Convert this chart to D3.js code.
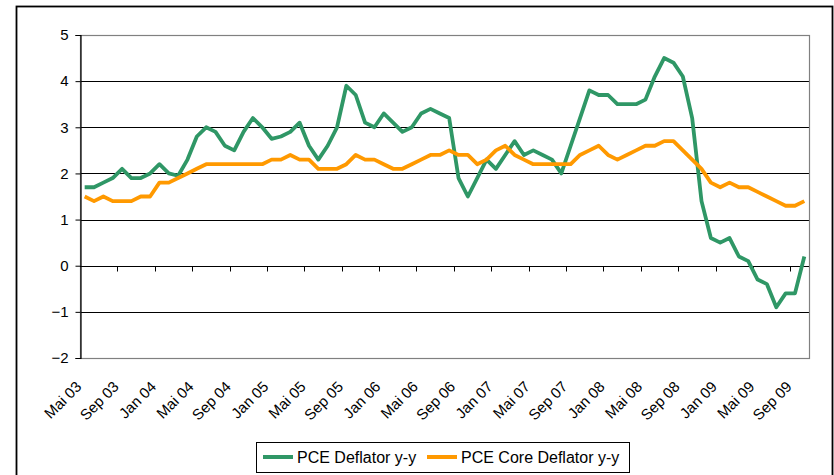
<!DOCTYPE html>
<html>
<head>
<meta charset="utf-8">
<script src="https://cdn.jsdelivr.net/npm/d3@7"></script>
<style>
  body { margin: 0; background: #fff; }
  text { font-family: Arial, "Liberation Sans", sans-serif; fill: #000; }
</style>
</head>
<body>
<div id="chart"></div>
<script>
// monthly, Mai 03 .. Okt 09
const months = d3.timeMonth.range(new Date(2003, 4, 1), new Date(2009, 10, 1));

const pce = [
  1.7, 1.7, 1.8, 1.9, 2.1, 1.9, 1.9, 2.0, 2.2, 2.0,
  1.95, 2.3, 2.8, 3.0, 2.9, 2.6, 2.5, 2.9, 3.2, 3.0,
  2.75, 2.8, 2.9, 3.1, 2.6, 2.3, 2.6, 3.0, 3.9, 3.7,
  3.1, 3.0, 3.3, 3.1, 2.9, 3.0, 3.3, 3.4, 3.3, 3.2,
  1.9, 1.5, 1.9, 2.3, 2.1, 2.4, 2.7, 2.4, 2.5, 2.4,
  2.3, 2.0, 2.6, 3.2, 3.8, 3.7, 3.7, 3.5, 3.5, 3.5,
  3.6, 4.1, 4.5, 4.4, 4.1, 3.2, 1.4, 0.6, 0.5, 0.6,
  0.2, 0.1, -0.3, -0.4, -0.9, -0.6, -0.6, 0.2
];

const pceCore = [
  1.5, 1.4, 1.5, 1.4, 1.4, 1.4, 1.5, 1.5, 1.8, 1.8,
  1.9, 2.0, 2.1, 2.2, 2.2, 2.2, 2.2, 2.2, 2.2, 2.2,
  2.3, 2.3, 2.4, 2.3, 2.3, 2.1, 2.1, 2.1, 2.2, 2.4,
  2.3, 2.3, 2.2, 2.1, 2.1, 2.2, 2.3, 2.4, 2.4, 2.5,
  2.4, 2.4, 2.2, 2.3, 2.5, 2.6, 2.4, 2.3, 2.2, 2.2,
  2.2, 2.2, 2.2, 2.4, 2.5, 2.6, 2.4, 2.3, 2.4, 2.5,
  2.6, 2.6, 2.7, 2.7, 2.5, 2.3, 2.1, 1.8, 1.7, 1.8,
  1.7, 1.7, 1.6, 1.5, 1.4, 1.3, 1.3, 1.4
];

const yTicks = [-2, -1, 0, 1, 2, 3, 4, 5];
const tickLabels = ["Mai 03", "Sep 03", "Jan 04", "Mai 04", "Sep 04", "Jan 05", "Mai 05",
  "Sep 05", "Jan 06", "Mai 06", "Sep 06", "Jan 07", "Mai 07", "Sep 07", "Jan 08",
  "Mai 08", "Sep 08", "Jan 09", "Mai 09", "Sep 09"];

const seriesNames = ["PCE Deflator y-y", "PCE Core Deflator y-y"];
const seriesColors = ["#2f9766", "#ff9900"];

const WIDTH = 834, HEIGHT = 475;
const PLOT_L = 80, PLOT_R = 809, PLOT_T = 35, PLOT_B = 358;

const svg = d3.select("#chart").append("svg")
  .attr("width", WIDTH)
  .attr("height", HEIGHT);

// outer frame
svg.append("rect")
  .attr("x", 16.5).attr("y", 6.5)
  .attr("width", 816).attr("height", 480)
  .attr("fill", "#fff").attr("stroke", "#000").attr("stroke-width", 1.8);

const x = d3.scaleBand().domain(d3.range(months.length)).range([PLOT_L, PLOT_R]).padding(0);
const y = d3.scaleLinear().domain([-2, 5]).range([PLOT_B, PLOT_T]);

// gridlines
svg.append("g").selectAll("line")
  .data(yTicks.filter(d => d > -2 && d < 5))
  .enter().append("line")
    .attr("x1", PLOT_L).attr("x2", PLOT_R)
    .attr("y1", d => Math.round(y(d)) + 0.5).attr("y2", d => Math.round(y(d)) + 0.5)
    .attr("stroke", "#000").attr("stroke-width", 1);

// plot area border
svg.append("rect")
  .attr("x", PLOT_L + 0.5).attr("y", PLOT_T + 0.5)
  .attr("width", PLOT_R - PLOT_L).attr("height", PLOT_B - PLOT_T)
  .attr("fill", "none").attr("stroke", "#808080").attr("stroke-width", 1.2);

// y axis
const yAxis = d3.axisLeft(y).tickValues(yTicks).tickSize(5).tickPadding(7).tickFormat(d3.format("d"));
const gy = svg.append("g")
  .attr("transform", `translate(${PLOT_L + 0.5},0)`)
  .call(yAxis);
gy.select(".domain").attr("stroke", "#000").attr("stroke-width", 1.2);
gy.selectAll(".tick line").attr("stroke", "#000");
gy.selectAll("text").style("font-size", "15px").attr("font-family", null);

// x axis on zero line
const y0 = Math.round(y(0)) + 0.5;
svg.append("line")
  .attr("x1", PLOT_L).attr("x2", PLOT_R)
  .attr("y1", y0).attr("y2", y0)
  .attr("stroke", "#000").attr("stroke-width", 1.2);

const tickIdx = d3.range(4, months.length, 4);
svg.append("g").selectAll("line")
  .data(tickIdx)
  .enter().append("line")
    .attr("x1", d => Math.round(x(d)) + 0.5).attr("x2", d => Math.round(x(d)) + 0.5)
    .attr("y1", y0).attr("y2", y0 + 5)
    .attr("stroke", "#000").attr("stroke-width", 1);

// rotated category labels
svg.append("g").selectAll("text")
  .data(tickLabels)
  .enter().append("text")
    .attr("transform", (d, i) => `translate(${x(i * 4) + x.bandwidth() / 2 - 6},384) rotate(-45)`)
    .attr("text-anchor", "end")
    .attr("dy", "0.35em")
    .style("font-size", "15px")
    .text(d => d);

// lines
const line = d3.line()
  .x((d, i) => x(i) + x.bandwidth() / 2)
  .y(d => y(d));

[pce, pceCore].forEach((s, k) => {
  svg.append("path")
    .datum(s)
    .attr("fill", "none")
    .attr("stroke", seriesColors[k])
    .attr("stroke-width", 3.8)
    .attr("stroke-linejoin", "round")
    .attr("d", line);
});

// legend
const legend = svg.append("g");
legend.append("rect")
  .attr("x", 256.5).attr("y", 442.5)
  .attr("width", 373).attr("height", 30)
  .attr("fill", "#fff").attr("stroke", "#000").attr("stroke-width", 1);

const legX = [263, 427];
seriesNames.forEach((name, k) => {
  legend.append("line")
    .attr("x1", legX[k]).attr("x2", legX[k] + 30)
    .attr("y1", 457).attr("y2", 457)
    .attr("stroke", seriesColors[k]).attr("stroke-width", 4);
  legend.append("text")
    .attr("x", legX[k] + 34).attr("y", 463)
    .style("font-size", "16px")
    .text(name);
});
</script>
</body>
</html>
